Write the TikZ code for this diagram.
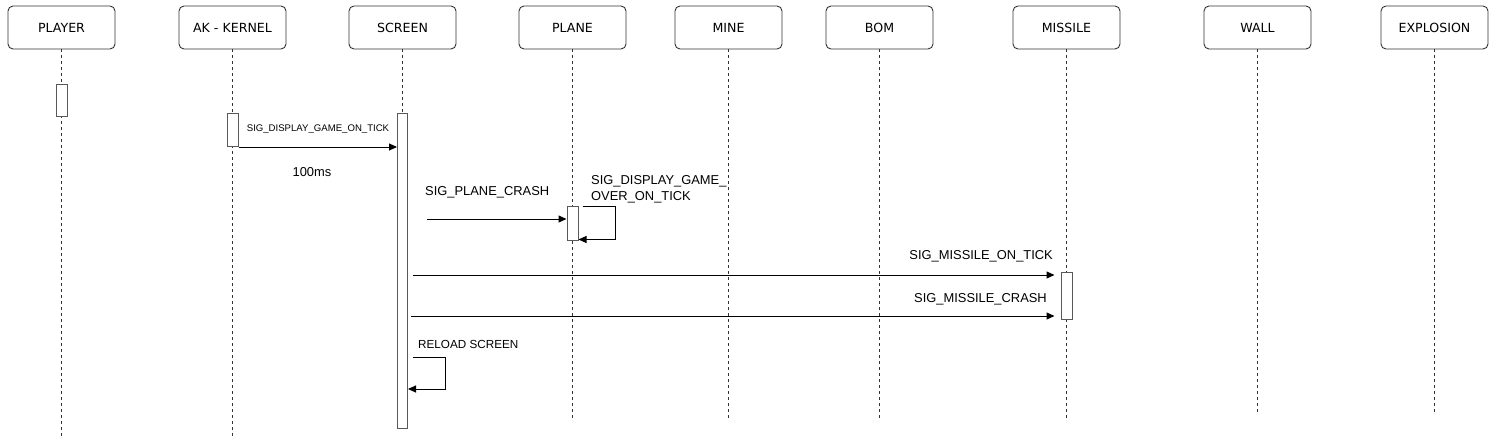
\documentclass[tikz,border=0pt]{standalone}
\usepackage{fontspec}
\setmainfont{Liberation Sans}
\newfontfamily\hdfont{DejaVu Sans}
\usetikzlibrary{arrows.meta}
\begin{document}
\begin{tikzpicture}[x=1pt,y=-1pt,
 head/.style={draw=black!80, rounded corners=5pt, minimum width=107pt, minimum height=43pt, font=\hdfont\fontsize{12.6}{14}\selectfont, inner sep=0pt, line width=0.9pt},
 life/.style={dash pattern=on 3pt off 3pt, draw=black!80, line width=0.9pt},
 act/.style={draw=black!65, fill=white, line width=1pt, inner sep=0pt, minimum width=11pt},
 msg/.style={-{Triangle[length=8pt,width=7pt]}, line width=1pt},
 lbl/.style={font=\fontsize{12.9}{16}\selectfont, inner sep=0pt},
 small/.style={font=\fontsize{9.6}{11}\selectfont, inner sep=0pt},
]
\useasboundingbox (0,0) rectangle (1499,436);
% headers
\node[head] (player) at (61.5,27.5) {PLAYER};
\node[head] (kernel) at (232.5,27.5) {AK - KERNEL};
\node[head] (screen) at (402.5,27.5) {SCREEN};
\node[head] (plane) at (572.5,27.5) {PLANE};
\node[head] (mine) at (728.5,27.5) {MINE};
\node[head] (bom) at (879.5,27.5) {BOM};
\node[head] (missile) at (1066.5,27.5) {MISSILE};
\node[head] (wall) at (1257.5,27.5) {WALL};
\node[head] (explosion) at (1434.5,27.5) {EXPLOSION};
% lifeline ends
\coordinate (playerEnd) at (61.5,436);
\coordinate (kernelEnd) at (232.5,436);
\coordinate (screenEnd) at (402.5,428);
\coordinate (planeEnd) at (572.5,421);
\coordinate (mineEnd) at (728.5,420);
\coordinate (bomEnd) at (879.5,421);
\coordinate (missileEnd) at (1066.5,421);
\coordinate (wallEnd) at (1257.5,414);
\coordinate (explosionEnd) at (1434.5,414);
\foreach \n in {player,kernel,screen,plane,mine,bom,missile,wall,explosion}
  \draw[life] (\n.south) -- (\n End);
% activations
\node[act, minimum height=32pt, anchor=north] (plA) at (61.5,84) {};
\node[act, minimum height=33pt, anchor=north] (akA) at (232.5,113) {};
\node[act, minimum height=315pt, minimum width=10pt, anchor=north] (scA) at (402.5,113) {};
\node[act, minimum height=34pt, anchor=north] (pnA) at (572.5,206) {};
\node[act, minimum height=47pt, anchor=north] (msA) at (1066.5,272) {};
% messages
\draw[msg] (akA.south east) -- (scA.west |- akA.south east);
\node[small] (lbl1) at (318,129) {SIG\_DISPLAY\_GAME\_ON\_TICK};
\node[lbl] (lbl100) at (312,172) {100ms};

\coordinate (pcStart) at (427,219);
\draw[msg] (pcStart) -- (pnA.west |- pcStart);
\node[lbl, anchor=west] (lblpc) at (425,192) {SIG\_PLANE\_CRASH};

\coordinate (loopA) at (615,206);
\draw[msg] ([xshift=4pt]pnA.north east) -- (loopA) |- ([yshift=1.5pt]pnA.south east);
\node[lbl, anchor=west, align=left] (lblgo) at (591,189) {SIG\_DISPLAY\_GAME\_\\OVER\_ON\_TICK};

\coordinate (mtStart) at (413,275);
\draw[msg, shorten >=6pt] (mtStart) -- (msA.west |- mtStart);
\node[lbl, anchor=east] (lblmt) at (1053,256) {SIG\_MISSILE\_ON\_TICK};

\coordinate (mcStart) at (411,316);
\draw[msg, shorten >=6pt] (mcStart) -- (msA.west |- mcStart);
\node[lbl, anchor=east] (lblmc) at (1047,299) {SIG\_MISSILE\_CRASH};

\coordinate (rlStart) at (413,357);
\coordinate (rlCorner) at (445,357);
\draw[msg] (rlStart) -- (rlCorner) |- (scA.east |- 0,389);
\node[lbl, anchor=west, font=\fontsize{11.7}{14}\selectfont] (lblrl) at (418,344) {RELOAD SCREEN};
\end{tikzpicture}
\end{document}
